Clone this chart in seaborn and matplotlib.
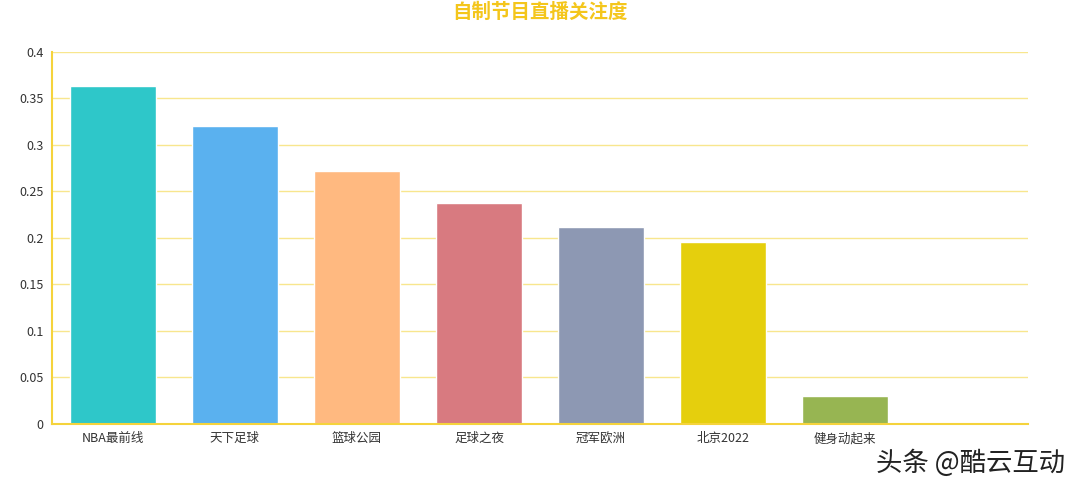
import numpy as np
import matplotlib
matplotlib.use("Agg")
import matplotlib.pyplot as plt
import seaborn as sns

# 数据
programs = ["NBA最前线", "天下足球", "篮球公园", "足球之夜", "冠军欧洲", "北京2022", "健身动起来"]
attention = [0.363, 0.320, 0.272, 0.238, 0.212, 0.196, 0.030]
bar_colors = ["#2EC7C9", "#5AB1EF", "#FFB980", "#D87A80", "#8D98B3", "#E5CF0D", "#97B552"]
y_ticks = [0, 0.05, 0.1, 0.15, 0.2, 0.25, 0.3, 0.35, 0.4]
y_tick_labels = ["0", "0.05", "0.1", "0.15", "0.2", "0.25", "0.3", "0.35", "0.4"]

sns.set_style("white")
plt.rcParams["font.family"] = ["Noto Sans CJK SC", "DejaVu Sans"]

fig = plt.figure(figsize=(10.8, 4.94), dpi=100)
ax = fig.add_axes([0.048, 0.142, 0.904, 0.753])

sns.barplot(x=programs, y=attention, hue=programs, palette=bar_colors,
            legend=False, width=0.7, ax=ax, saturation=1)

ax.set_xlim(-0.5, 7.5)
ax.set_ylim(0, 0.4)
ax.set_yticks(y_ticks)
ax.set_yticklabels(y_tick_labels, fontsize=9, color="#333333")
ax.tick_params(axis="x", length=0, labelsize=9, labelcolor="#333333", pad=6)
ax.tick_params(axis="y", length=0, pad=6)
ax.set_xticks(np.arange(-0.5, 8, 1), minor=True)
ax.tick_params(axis="x", which="minor", length=5, color="#F5D33C", width=1)

ax.grid(axis="y", color="#F8E68E", linewidth=1)
ax.set_axisbelow(True)
for side in ["top", "right"]:
    ax.spines[side].set_visible(False)
ax.spines["bottom"].set_color("#F5D33C")
ax.spines["bottom"].set_linewidth(1.5)
ax.spines["left"].set_color("#F5D33C")
ax.spines["left"].set_linewidth(1.5)
ax.set_xlabel("")
ax.set_ylabel("")

fig.text(0.5, 0.975, "自制节目直播关注度", ha="center", va="center",
         fontsize=14, fontweight="bold", color="#F4C61C")

fig.text(0.986, 0.063, "头条 @酷云互动", ha="right", va="center",
         fontsize=19, color="#222222")

fig.savefig("out.png", dpi=100)
